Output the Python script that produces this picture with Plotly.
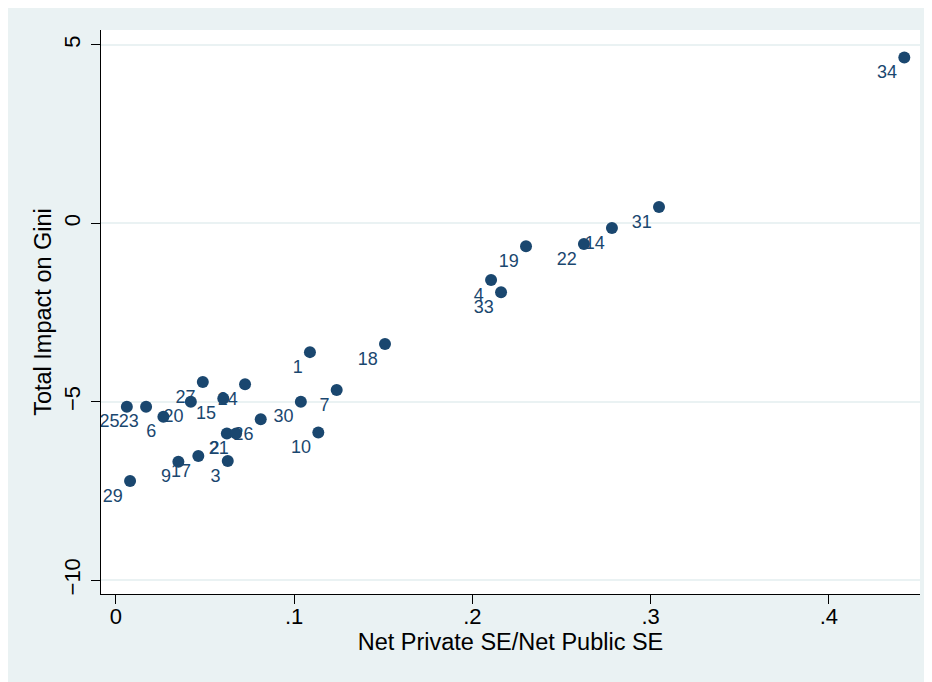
import plotly.graph_objects as go

# Data
labels = ["34", "31", "14", "22", "19", "4", "33", "18", "1", "7", "30", "10",
          "27", "24", "15", "20", "6", "23", "25", "26", "2", "21", "9", "17", "3", "29"]
ratio = [0.4423, 0.3047, 0.2783, 0.2626, 0.2301, 0.2105, 0.2161, 0.1510, 0.1089, 0.1239, 0.1038, 0.1136,
         0.0488, 0.0725, 0.0603, 0.0421, 0.0267, 0.0170, 0.0062, 0.0813, 0.0623, 0.0675, 0.0351, 0.0463, 0.0628, 0.0080]
impact = [4.65, 0.46, -0.13, -0.58, -0.64, -1.59, -1.93, -3.38, -3.61, -4.67, -5.00, -5.86,
          -4.45, -4.51, -4.91, -5.00, -5.42, -5.14, -5.14, -5.49, -5.89, -5.89, -6.68, -6.52, -6.66, -7.22]

x_ticks = [0, 0.1, 0.2, 0.3, 0.4]
x_ticktext = ["0", ".1", ".2", ".3", ".4"]
y_ticks = [-10, -5, 0, 5]
y_ticktext = ["\u221210", "\u22125", "0", "5"]

NAVY = "#1a476f"
BG = "#eaf2f3"
FONT = "Liberation Sans, Arial, Helvetica, sans-serif"

fig = go.Figure()
# labels (drawn beneath the markers, like Stata)
fig.add_trace(go.Scatter(
    x=ratio, y=impact, mode="markers+text", text=labels, textposition="bottom left",
    marker=dict(size=10, color="rgba(0,0,0,0)"),
    textfont=dict(size=18, color=NAVY, family=FONT),
    hoverinfo="skip", showlegend=False))
# markers
fig.add_trace(go.Scatter(
    x=ratio, y=impact, mode="markers",
    marker=dict(size=12, color=NAVY, line=dict(width=0)),
    showlegend=False))

fig.update_layout(
    width=919, height=674,
    margin=dict(l=93, r=7, t=22, b=88, autoexpand=False),
    paper_bgcolor=BG, plot_bgcolor="white",
    font=dict(family=FONT, color="black"),
    showlegend=False,
)

fig.update_xaxes(
    automargin=False,
    range=[-0.0083, 0.4511], tickmode="array", tickvals=x_ticks, ticktext=x_ticktext,
    showgrid=False, zeroline=False, showline=True, linecolor="black", linewidth=1,
    ticks="outside", ticklen=9, tickwidth=1, tickcolor="black",
    tickfont=dict(size=22, color="black"), ticklabelstandoff=-6,
    title=dict(text="Net Private SE/Net Public SE", font=dict(size=23.5, color="black"), standoff=1),
)
fig.update_yaxes(
    automargin=False,
    range=[-10.39, 5.42], tickmode="array", tickvals=y_ticks, ticktext=y_ticktext, tickangle=-90,
    showgrid=True, gridcolor=BG, gridwidth=1.5, zeroline=False,
    showline=True, linecolor="black", linewidth=1,
    ticks="outside", ticklen=9, tickwidth=1, tickcolor="black",
    tickfont=dict(size=22, color="black"), ticklabelstandoff=2,
    title=dict(text="Total Impact on Gini", font=dict(size=23.5, color="black"), standoff=1),
)

fig.write_html("out.html")
